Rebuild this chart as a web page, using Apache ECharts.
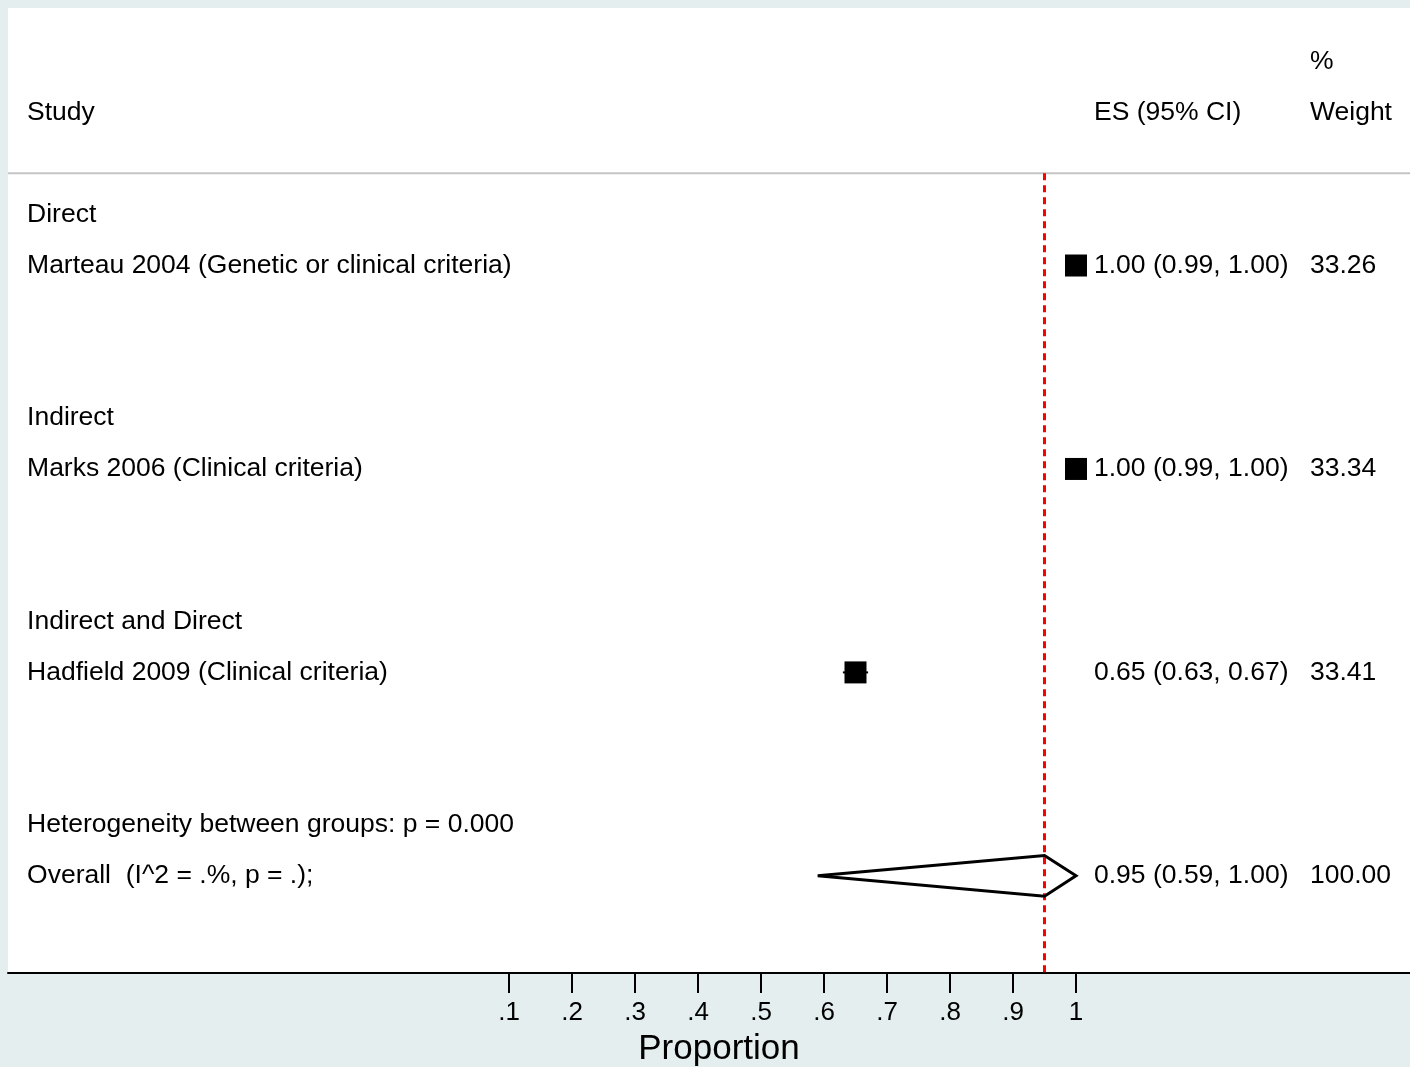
<!DOCTYPE html>
<html>
<head>
<meta charset="utf-8">
<script src="https://cdn.jsdelivr.net/npm/echarts@6/dist/echarts.min.js"></script>
<style>
html,body{margin:0;padding:0;background:#e4eeee;}
#c{width:1410px;height:1067px;}
</style>
</head>
<body>
<div id="c"></div>
<script>
// ---- data ----
const groups = ['Direct', 'Indirect', 'Indirect and Direct'];
const studies = ['Marteau 2004 (Genetic or clinical criteria)', 'Marks 2006 (Clinical criteria)', 'Hadfield 2009 (Clinical criteria)'];
const es = [1.00, 1.00, 0.65];
const ciLow = [0.99, 0.99, 0.63];
const ciHigh = [1.00, 1.00, 0.67];
const weights = [33.26, 33.34, 33.41];
const overallES = 0.95;
const overallLow = 0.59;
const overallHigh = 1.00;
const overallWeight = 100.00;
const heterogeneityText = 'Heterogeneity between groups: p = 0.000';
const overallText = 'Overall  (I^2 = .%, p = .);';
const tickValues = [0.1, 0.2, 0.3, 0.4, 0.5, 0.6, 0.7, 0.8, 0.9, 1];
const tickLabels = ['.1', '.2', '.3', '.4', '.5', '.6', '.7', '.8', '.9', '1'];
const headers = { study: 'Study', es: 'ES (95% CI)', pct: '%', weight: 'Weight' };
const axisTitle = 'Proportion';

// ---- layout (row units / column positions in axis units) ----
const X_MIN = -0.69524, X_MAX = 1.53016;
const Y_MIN = -1.063, Y_MAX = 17.91;
const colStudy = -0.665, colES = 1.0286, colW = 1.3714;
const sepRow = 2.185;
const FONT = '26.5px "Liberation Sans", Arial, Helvetica, sans-serif';

const texts = [];
texts.push([colW, 0, headers.pct]);
texts.push([colStudy, 1, headers.study]);
texts.push([colES, 1, headers.es]);
texts.push([colW, 1, headers.weight]);
const fmt = v => v.toFixed(2);
groups.forEach((g, i) => {
  const rg = 3 + 4 * i, rs = 4 + 4 * i;
  texts.push([colStudy, rg, g]);
  texts.push([colStudy, rs, studies[i]]);
  texts.push([colES, rs, `${fmt(es[i])} (${fmt(ciLow[i])}, ${fmt(ciHigh[i])})`]);
  texts.push([colW, rs, fmt(weights[i])]);
});
texts.push([colStudy, 15, heterogeneityText]);
texts.push([colStudy, 16, overallText]);
texts.push([colES, 16, `${fmt(overallES)} (${fmt(overallLow)}, ${fmt(overallHigh)})`]);
texts.push([colW, 16, fmt(overallWeight)]);

const studyPts = es.map((v, i) => [v, 4 + 4 * i, ciLow[i], ciHigh[i]]);

const chart = echarts.init(document.getElementById('c'));
chart.setOption({
  backgroundColor: '#e4eeee',
  animation: false,
  grid: { left: 8, right: 0, top: 8, bottom: 94, containLabel: false, outerBoundsMode: 'none',
          show: true, backgroundColor: '#ffffff', borderWidth: 0 },
  xAxis: {
    type: 'value', min: X_MIN, max: X_MAX,
    axisLine: { show: true, onZero: false, lineStyle: { color: '#000', width: 2 } },
    axisTick: { show: true, customValues: tickValues, length: 20, lineStyle: { color: '#000', width: 2 } },
    axisLabel: {
      customValues: tickValues, margin: 27, color: '#000', fontSize: 26,
      fontFamily: '"Liberation Sans", Arial, sans-serif',
      formatter: v => { const k = tickValues.findIndex(t => Math.abs(t - v) < 1e-6); return k >= 0 ? tickLabels[k] : ''; }
    },
    splitLine: { show: false },
    name: axisTitle, nameLocation: 'middle', nameGap: 59,
    nameTextStyle: { color: '#000', fontSize: 35, fontFamily: '"Liberation Sans", Arial, sans-serif', padding: [0, 0, 0, 20] }
  },
  yAxis: { type: 'value', min: Y_MIN, max: Y_MAX, inverse: true, show: false, splitLine: { show: false } },
  series: [
    { // header separator
      type: 'line', data: [[X_MIN, sepRow], [X_MAX, sepRow]], symbol: 'none', silent: true,
      lineStyle: { color: '#c4c4c4', width: 2 }, z: 1
    },
    { // reference line at overall estimate
      type: 'line', data: [[overallES, sepRow], [overallES, Y_MAX]], symbol: 'none', silent: true,
      lineStyle: { color: '#ff0000', width: 3, type: [7, 5] }, z: 2
    },
    { // CI lines
      type: 'custom', data: studyPts, z: 3,
      renderItem: (p, api) => {
        const a = api.coord([api.value(2), api.value(1)]);
        const b = api.coord([api.value(3), api.value(1)]);
        return { type: 'line', shape: { x1: a[0], y1: a[1], x2: b[0], y2: b[1] }, style: { stroke: '#000', lineWidth: 2 } };
      }
    },
    { // study squares
      type: 'scatter', data: studyPts.map(d => [d[0], d[1]]), symbol: 'rect', symbolSize: 22,
      itemStyle: { color: '#000', opacity: 1 }, z: 4
    },
    { // overall diamond
      type: 'custom', data: [[overallES, 16, overallLow, overallHigh]], z: 4,
      renderItem: (p, api) => {
        const y = api.value(1), h = 0.4;
        const pts = [
          api.coord([api.value(2), y]), api.coord([api.value(0), y - h]),
          api.coord([api.value(3), y]), api.coord([api.value(0), y + h])
        ];
        return { type: 'polygon', shape: { points: pts }, style: { fill: 'rgba(255,255,255,0)', stroke: '#000', lineWidth: 3, lineJoin: 'miter' } };
      }
    },
    { // text columns
      type: 'custom', data: texts, z: 5, clip: false,
      renderItem: (p, api) => {
        const c = api.coord([api.value(0), api.value(1)]);
        return { type: 'text', x: c[0], y: c[1], style: { text: texts[p.dataIndex][2], font: FONT, fill: '#000', align: 'left', verticalAlign: 'middle' } };
      }
    }
  ]
});
</script>
</body>
</html>
